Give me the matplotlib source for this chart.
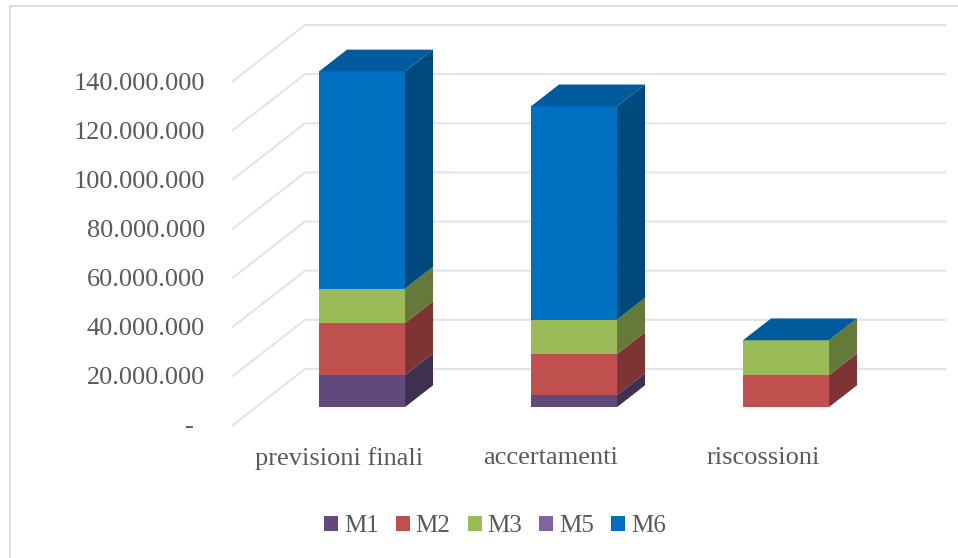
import matplotlib
matplotlib.use("Agg")
import matplotlib.pyplot as plt
from matplotlib.patches import Polygon, Patch

# values
categories = ["previsioni finali", "accertamenti", "riscossioni"]
series_names = ["M1", "M2", "M3", "M5", "M6"]
m1 = [13000000, 4900000, 0]
m2 = [21200000, 16700000, 13000000]
m3 = [14000000, 14000000, 14200000]
m5 = [0, 0, 0]
m6 = [88400000, 86800000, 0]
ticks = [0, 20000000, 40000000, 60000000, 80000000, 100000000, 120000000, 140000000]
tick_labels = ["-", "20.000.000", "40.000.000", "60.000.000", "80.000.000",
               "100.000.000", "120.000.000", "140.000.000"]

front_colors = ["#604A7B", "#C0504D", "#9BBB59", "#8064A2", "#0070C0"]
side_colors = ["#3F3050", "#7D3432", "#65793A", "#53416A", "#00497D"]
top_color = "#005B9C"

# depth of the fake 3d box, in x category units and y data units
depth_x = 0.3396
depth_y = 22800000
bar_w = 0.4057
d0, d1 = 0.32, 0.709

plt.rcParams['font.family'] = ['Liberation Serif', 'DejaVu Serif']
W, H = 958, 558
fig = plt.figure(figsize=(W / 100, H / 100), dpi=100)

# outer frame of the chart, cut off on the right and at the bottom
fig.add_artist(plt.Line2D([9.5 / W, 9.5 / W, W / W], [0, 1 - 6 / H, 1 - 6 / H],
                          color="#DEDEDE", lw=1.5))

ax = fig.add_axes([233 / W, 1 - 425 / H, 636 / W, 344 / H])
ax.set_xlim(-0.5, 2.5)
ax.set_ylim(0, 140000000)
ax.patch.set_visible(False)
for s in ax.spines.values():
    s.set_visible(False)

# --- walls ---
for t in ticks:
    ax.plot([-0.5, -0.5 + depth_x, 2.52 + depth_x],
            [t, t + depth_y, t + depth_y],
            color="#E4E4E4", lw=1.5, clip_on=False, zorder=1)


def proj(x, y, d):
    return (x + depth_x * d, y + depth_y * d)


# --- stacked bars ---
all_series = [m1, m2, m3, m5, m6]
for i in range(len(categories)):
    base = 0
    x0 = i - bar_w / 2
    x1 = i + bar_w / 2
    for k, vals in enumerate(all_series):
        v = vals[i]
        if v == 0:
            continue
        top = base + v
        ax.add_patch(Polygon([proj(x1, base, d0), proj(x1, base, d1), proj(x1, top, d1), proj(x1, top, d0)],
                             fc=side_colors[k], ec="none", clip_on=False, zorder=3))
        ax.add_patch(Polygon([proj(x0, base, d0), proj(x1, base, d0), proj(x1, top, d0), proj(x0, top, d0)],
                             fc=front_colors[k], ec="none", clip_on=False, zorder=4))
        base = top
    # top of riscossioni is dark blue in the original too
    ax.add_patch(Polygon([proj(x0, base, d0), proj(x1, base, d0), proj(x1, base, d1), proj(x0, base, d1)],
                         fc=top_color, ec="none", clip_on=False, zorder=4))

# --- axis text ---
ax.set_yticks(ticks)
ax.set_yticklabels(tick_labels)
ax.tick_params(axis='y', length=0, pad=20, labelsize=18.9, labelcolor="#595959")
ax.get_yticklabels()[0].set_x(-0.0173)
ax.set_xticks(range(len(categories)))
ax.set_xticklabels(categories)
ax.tick_params(axis='x', length=0, pad=16, labelsize=19, labelcolor="#595959")

# --- legend ---
handles = [Patch(fc=c, ec="none") for c in front_colors]
fig.legend(handles, series_names, loc="center", bbox_to_anchor=(495 / W, 1 - 526 / H), ncol=5,
           frameon=False, fontsize=18, labelcolor="#595959", handlelength=0.56, handleheight=0.56,
           handletextpad=0.24, columnspacing=0.68)

fig.savefig("out.png", dpi=100, facecolor="white")
